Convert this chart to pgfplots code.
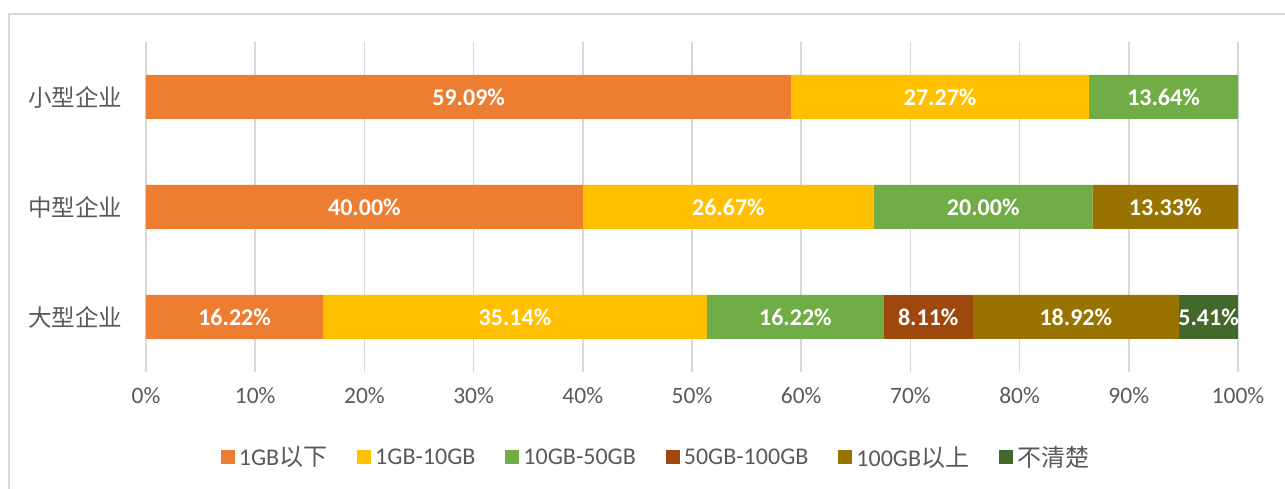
\documentclass[border=0pt]{standalone}
\usepackage{pgfplots}
\pgfplotsset{compat=1.18}
\usepackage{pgfplotstable}
\usepackage{fontspec}
\setmainfont{Carlito}
\newfontfamily\cjk{Noto Sans CJK SC}
\definecolor{txt}{HTML}{595959}
\definecolor{gridc}{HTML}{D9D9D9}
\definecolor{c1}{HTML}{ED7D31}
\definecolor{c2}{HTML}{FFC000}
\definecolor{c3}{HTML}{70AD47}
\definecolor{c4}{HTML}{9E480E}
\definecolor{c5}{HTML}{997300}
\definecolor{c6}{HTML}{43682B}

% y: 0 = 大型企业, 1 = 中型企业, 2 = 小型企业
\pgfplotstableread{
y a b c d e f
0 16.22 35.14 16.22 8.11 18.92 5.41
1 40.00 26.67 20.00 0 13.33 0
2 59.09 27.27 13.64 0 0 0
}\data

% label positions (middle of each segment) and texts
\pgfplotstableread{
x y t
8.11 0 16.22\%
33.79 0 35.14\%
59.47 0 16.22\%
71.635 0 8.11\%
85.15 0 18.92\%
97.305 0 5.41\%
20.00 1 40.00\%
53.335 1 26.67\%
76.67 1 20.00\%
93.335 1 13.33\%
29.545 2 59.09\%
72.725 2 27.27\%
93.18 2 13.64\%
}\labels

\pgfplotsset{
  base/.style={
    at={(146pt,117pt)}, anchor=south west,
    width=1092pt, height=330pt, scale only axis,
    xmin=0, xmax=100, ymin=-0.5, ymax=2.5,
    clip=false,
  },
}

\begin{document}
\begin{tikzpicture}[x=1pt,y=1pt]
\path[use as bounding box] (0,0) rectangle (1285,489);
\draw[gridc, line width=1.5pt] (9,0) -- (9,475) -- (1285,475);
\begin{axis}[
  base,
  xbar stacked, bar width=44pt,
  axis line style={draw=none},
  xmajorgrids, grid style={gridc, line width=1.5pt},
  xtick={0,10,...,100},
  xticklabel={\pgfmathprintnumber{\tick}\%},
  /pgf/number format/assume math mode=true,
  xticklabel style={font=\fontsize{23.5}{26}\selectfont, text=txt, yshift=-12pt},
  ytick={0,1,2},
  yticklabels={大型企业,中型企业,小型企业},
  yticklabel style={font=\cjk\fontsize{23.5}{26}\selectfont, text=txt, xshift=-20pt},
  major tick length=0pt,
  legend columns=6,
  legend style={at={(510pt,-85pt)}, anchor=center, draw=none, fill=none,
    font=\fontsize{24}{26}\selectfont, text=txt,
    /tikz/every odd column/.append style={column sep=2pt},
    /tikz/every even column/.append style={column sep=28pt}},
  legend image code/.code={\fill[#1] (0pt,-7pt) rectangle (14pt,7pt);},
]
\addplot[fill=c1, draw=none] table[x=a, y=y] {\data};
\addlegendentry{1GB{\cjk 以下}}
\addplot[fill=c2, draw=none] table[x=b, y=y] {\data};
\addlegendentry{1GB-10GB}
\addplot[fill=c3, draw=none] table[x=c, y=y] {\data};
\addlegendentry{10GB-50GB}
\addplot[fill=c4, draw=none] table[x=d, y=y] {\data};
\addlegendentry{50GB-100GB}
\addplot[fill=c5, draw=none] table[x=e, y=y] {\data};
\addlegendentry{100GB{\cjk 以上}}
\addplot[fill=c6, draw=none] table[x=f, y=y] {\data};
\addlegendentry{\cjk 不清楚}
\end{axis}
\begin{axis}[base, axis lines=none, xtick=\empty, ytick=\empty]
\addplot[only marks, mark=none, point meta=explicit symbolic,
  nodes near coords,
  every node near coord/.style={anchor=center, text=white,
    font=\bfseries\fontsize{24}{26}\selectfont}]
  table[x=x, y=y, meta=t] {\labels};
\end{axis}
\end{tikzpicture}
\end{document}
